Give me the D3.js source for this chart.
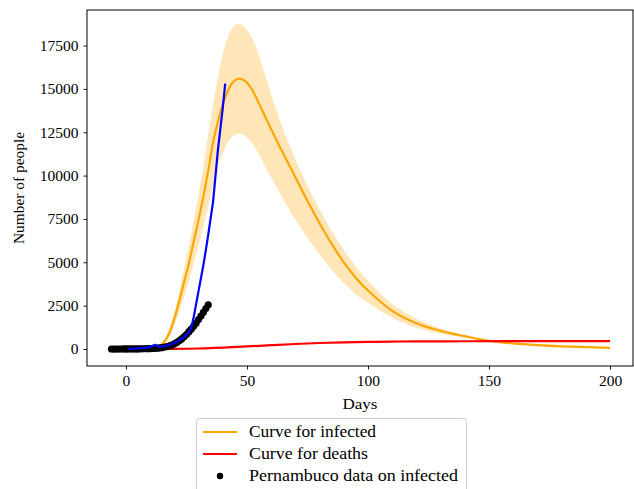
<!DOCTYPE html>
<html><head><meta charset="utf-8">
<script src="https://cdn.jsdelivr.net/npm/d3@7"></script>
<style>
html,body{margin:0;padding:0;background:#fff;}
text{font-family:"Liberation Serif","DejaVu Serif",serif;}
</style></head>
<body><svg id="c" width="634" height="489"></svg>
<script>
// ---- data ----
const modelDays = [0,5,10,12,14,16,18,20,22,24,26,28,30,32,34,36,38,40,42,44,46,48,50,52,55,58,61,64,67,70,75,80,85,90,95,100,110,120,130,140,150,160,170,180,190,200];
const infected = [5,15,60,110,190,450,950,1750,2750,3850,4950,6200,7450,8800,10300,11900,13100,14100,14850,15350,15570,15560,15360,14980,14150,13250,12380,11540,10720,9900,8530,7250,6060,5000,4100,3370,2200,1480,1040,740,470,320,220,150,103,70];
const infectedUpper = [6,18,75,140,250,580,1200,2150,3350,4650,5950,7450,8950,10550,12350,14150,15700,17000,17950,18500,18750,18700,18400,17950,16900,15550,14250,13050,11950,10950,9400,8050,6800,5700,4750,3950,2600,1750,1200,800,510,340,235,160,112,78];
const infectedLower = [4,12,48,85,150,350,720,1350,2150,3000,3900,4950,5950,7050,8200,9400,10450,11300,11900,12250,12400,12400,12200,11900,11200,10400,9650,8900,8150,7450,6400,5450,4550,3800,3150,2650,1800,1220,880,650,440,305,210,140,95,62];
const deathDays = [0,10,20,30,40,50,60,70,80,90,100,110,120,140,160,180,200];
const deaths = [0,2,8,30,80,150,220,290,345,385,410,428,438,447,450,452,452];
const fitDays = [1,2,3,4,5,6,7,8,9,10,11,12,13,14,15,16,17,18,19,20,21,22,23,24,25,26,27,28,29,30,31,32,33,34,35,36,37,38,39,40,41];
const fitValues = [10,15,20,30,40,50,60,75,90,130,190,240,170,140,150,170,200,240,290,350,420,500,590,700,830,950,1250,1850,2600,3350,4100,4850,5700,6600,7550,8500,10000,11500,12700,13900,15300];
const dataDays = [-6,-5,-4,-3,-2,-1,0,1,2,3,4,5,6,7,8,9,10,11,12,13,14,15,16,17,18,19,20,21,22,23,24,25,26,27,28,29,30,31,32,33,34];
const dataValues = [0,0,0,0,1,2,2,2,3,4,5,7,8,12,15,20,25,30,40,50,65,80,110,140,180,230,300,380,470,580,700,830,1000,1150,1320,1500,1700,1900,2120,2330,2550];
const xTicks = [0,50,100,150,200];
const yTicks = [0,2500,5000,7500,10000,12500,15000,17500];
const legendLabels = ["Curve for infected","Curve for deaths","Pernambuco data on infected"];

// ---- layout ----
const svg = d3.select("#c");
const L = 87, R = 633, T = 10, B = 366;
const x = d3.scaleLinear().domain([-16.1, 209.5]).range([L, R]);
const y = d3.scaleLinear().domain([-980, 19550]).range([B, T]);
const smooth = d3.curveCatmullRom.alpha(0.5);

const g = svg.append("g");
svg.append("clipPath").attr("id","clp").append("rect")
  .attr("x",L).attr("y",T).attr("width",R-L).attr("height",B-T);
const plot = g.append("g").attr("clip-path","url(#clp)");

const band = modelDays.map((d,i)=>({d, lo:infectedLower[i], hi:infectedUpper[i]}));
plot.append("path").datum(band)
  .attr("d", d3.area().x(p=>x(p.d)).y0(p=>y(p.lo)).y1(p=>y(p.hi)).curve(smooth))
  .attr("fill","orange").attr("fill-opacity",0.28).attr("stroke","none");

const lineGen = d3.line().x(p=>x(p[0])).y(p=>y(p[1])).curve(smooth);
plot.append("path").datum(modelDays.map((d,i)=>[d,infected[i]]))
  .attr("d", lineGen).attr("fill","none").attr("stroke","orange").attr("stroke-width",2.2);
plot.append("path").datum(deathDays.map((d,i)=>[d,deaths[i]]))
  .attr("d", lineGen).attr("fill","none").attr("stroke","red").attr("stroke-width",2.2);

plot.selectAll("circle.dat").data(dataDays.map((d,i)=>[d,dataValues[i]])).enter()
  .append("circle").attr("class","dat")
  .attr("cx",p=>x(p[0])).attr("cy",p=>y(p[1])).attr("r",3.6).attr("fill","black");

plot.append("path").datum(fitDays.map((d,i)=>[d,fitValues[i]]))
  .attr("d", d3.line().x(p=>x(p[0])).y(p=>y(p[1])))
  .attr("fill","none").attr("stroke","blue").attr("stroke-width",2.2).attr("stroke-linejoin","round");

// axes
const xAxis = d3.axisBottom(x).tickValues(xTicks).tickSize(3.5).tickPadding(5).tickFormat(d3.format("d"));
const yAxis = d3.axisLeft(y).tickValues(yTicks).tickSize(3.5).tickPadding(5).tickFormat(d3.format("d"));
const gx = g.append("g").attr("transform",`translate(0,${B})`).call(xAxis);
const gy = g.append("g").attr("transform",`translate(${L},0)`).call(yAxis);
[gx,gy].forEach(a=>{
  a.select(".domain").remove();
  a.selectAll(".tick line").attr("stroke","black").attr("stroke-width",0.9);
  a.selectAll(".tick text").attr("fill","black").style("font-size","15.5px").style("font-family","'Liberation Serif',serif");
});
g.append("rect").attr("x",L).attr("y",T).attr("width",R-L).attr("height",B-T)
  .attr("fill","none").attr("stroke","black").attr("stroke-width",1);

g.append("text").attr("x",(L+R)/2).attr("y",409).attr("text-anchor","middle")
  .attr("textLength",35).attr("lengthAdjust","spacingAndGlyphs")
  .style("font-size","15.5px").text("Days");
g.append("text").attr("transform",`translate(24,${(T+B)/2}) rotate(-90)`).attr("text-anchor","middle")
  .attr("textLength",112).attr("lengthAdjust","spacingAndGlyphs")
  .style("font-size","15.5px").text("Number of people");

// legend
const lg = svg.append("g");
lg.append("rect").attr("x",196.5).attr("y",418.5).attr("width",270).attr("height",80).attr("rx",3)
  .attr("fill","white").attr("fill-opacity",0.8).attr("stroke","#cccccc").attr("stroke-width",1);
const ly = [432,454,476];
const lcol = ["orange","red"];
const lw = [127,119,209];
legendLabels.forEach((t,i)=>{
  if(i<2){
    lg.append("line").attr("x1",203).attr("x2",237).attr("y1",ly[i]).attr("y2",ly[i])
      .attr("stroke",lcol[i]).attr("stroke-width",2.2);
  } else {
    lg.append("circle").attr("cx",220).attr("cy",ly[i]).attr("r",3.2).attr("fill","black");
  }
  lg.append("text").attr("x",249).attr("y",ly[i]+5).style("font-size","16px")
    .attr("textLength",lw[i]).attr("lengthAdjust","spacingAndGlyphs").text(t);
});
</script></body></html>
